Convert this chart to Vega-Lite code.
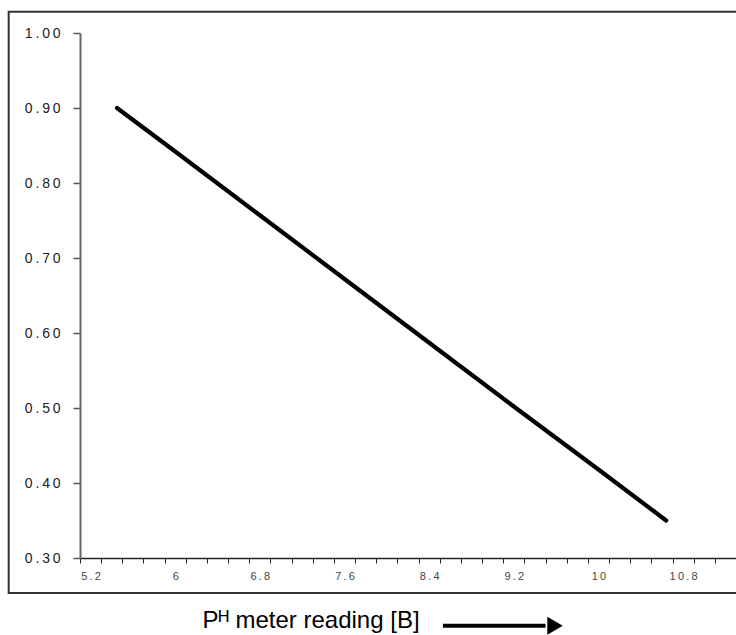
{
  "$schema": "https://vega.github.io/schema/vega-lite/v6.json",
  "width": 656,
  "height": 525,
  "autosize": "none",
  "padding": {"left": 80, "top": 33, "right": 0, "bottom": 77},
  "background": "white",
  "config": {"view": {"stroke": null}},
  "layer": [
    {
      "data": {"values": [
        {"ph": 5.45, "value": 0.900},
        {"ph": 6.0, "value": 0.842},
        {"ph": 6.8, "value": 0.757},
        {"ph": 7.6, "value": 0.672},
        {"ph": 8.4, "value": 0.587},
        {"ph": 9.2, "value": 0.502},
        {"ph": 10.0, "value": 0.418},
        {"ph": 10.64, "value": 0.350}
      ]},
      "mark": {"type": "line", "color": "black", "strokeWidth": 4.2, "strokeCap": "round", "strokeJoin": "round"},
      "encoding": {
        "x": {
          "field": "ph", "type": "quantitative",
          "scale": {"domain": [5.1, 11.3], "nice": false, "zero": false},
          "axis": {
            "title": "Pᴴ meter reading [B]",
            "titleFont": "Liberation Sans", "titleFontSize": 24, "titleFontWeight": "normal", "titleColor": "black",
            "titleX": 122, "titleY": 69, "titleAlign": "left", "titleBaseline": "alphabetic", "titleAngle": 0,
            "tickCount": 500,
            "values": [5.1,5.2,5.3,5.4,5.5,5.6,5.7,5.8,5.9,6.0,6.1,6.2,6.3,6.4,6.5,6.6,6.7,6.8,6.9,7.0,7.1,7.2,7.3,7.4,7.5,7.6,7.7,7.8,7.9,8.0,8.1,8.2,8.3,8.4,8.5,8.6,8.7,8.8,8.9,9.0,9.1,9.2,9.3,9.4,9.5,9.6,9.7,9.8,9.9,10.0,10.1,10.2,10.3,10.4,10.5,10.6,10.7,10.8,10.9,11.0,11.1,11.2],
            "labelExpr": "(round(datum.value*10)-52) % 8 == 0 ? join(split(format(datum.value, '~g'), ''), '\u2009') : ''",
            "tickOpacity": {"condition": {"test": "round(datum.value*10) % 2 == 1", "value": 1}, "value": 0},
            "labelOverlap": false, "labelFlush": false, "labelBound": false,
            "labelFont": "Liberation Sans", "labelFontSize": 11, "labelColor": "#444444", "labelPadding": 7,
            "domainColor": "#222222", "domainWidth": 1.5,
            "tickColor": "#222222", "tickSize": 5, "tickWidth": 1,
            "grid": false
          }
        },
        "y": {
          "field": "value", "type": "quantitative",
          "scale": {"domain": [0.3, 1.0], "nice": false, "zero": false},
          "axis": {
            "title": null,
            "tickCount": 50,
            "values": [0.3, 0.4, 0.5, 0.6, 0.7, 0.8, 0.9, 1.0],
            "labelExpr": "join(split(format(datum.value, '.2f'), ''), '\u2009')",
            "labelFont": "Liberation Sans", "labelFontSize": 14, "labelColor": "#222222", "labelPadding": 13,
            "domainColor": "#666666", "domainWidth": 2,
            "tickColor": "#555555", "tickSize": 7, "tickWidth": 1.5,
            "grid": false
          }
        }
      }
    },
    {
      "data": {"values": [{}]},
      "mark": {"type": "rect", "fill": "transparent", "stroke": "#333333", "strokeWidth": 2},
      "encoding": {
        "x": {"datum": 4.426, "type": "quantitative"},
        "x2": {"datum": 11.6},
        "y": {"datum": 1.0284, "type": "quantitative"},
        "y2": {"datum": 0.2533}
      }
    },
    {
      "data": {"values": [{}]},
      "mark": {"type": "rule", "color": "black", "strokeWidth": 4},
      "encoding": {
        "x": {"datum": 8.53, "type": "quantitative"},
        "x2": {"datum": 9.5},
        "y": {"datum": 0.2097, "type": "quantitative"}
      }
    },
    {
      "data": {"values": [{}]},
      "mark": {"type": "point", "shape": "triangle-right", "filled": true, "color": "black", "opacity": 1, "size": 320},
      "encoding": {
        "x": {"datum": 9.59, "type": "quantitative"},
        "y": {"datum": 0.2097, "type": "quantitative"}
      }
    }
  ]
}
